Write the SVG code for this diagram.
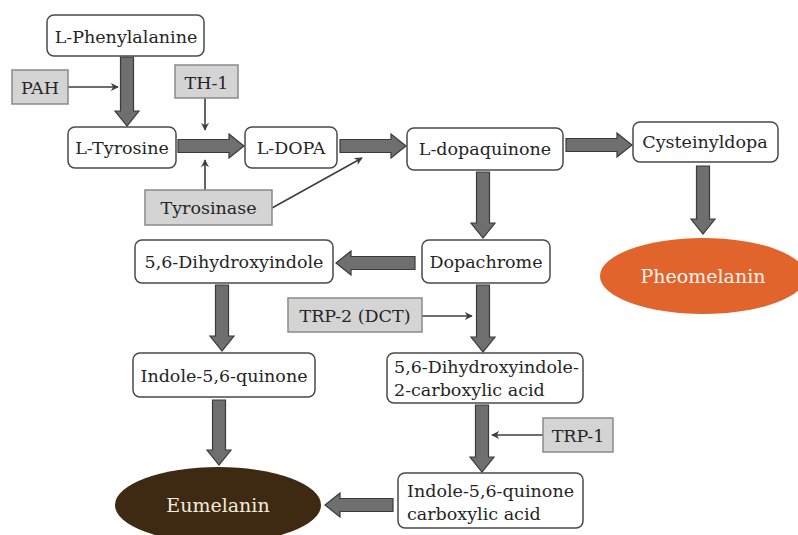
<svg xmlns="http://www.w3.org/2000/svg" width="798" height="535" viewBox="0 0 798 535">
<defs>
<style>
.node rect{fill:#ffffff;stroke:#4a4a4a;stroke-width:1.5}
.enz rect{fill:#d4d4d4;stroke:#8a8a8a;stroke-width:1.5}
text{font-family:'DejaVu Serif','Liberation Serif',serif;font-size:17.5px;fill:#252525}
.c{text-anchor:middle}
.big{fill:#6f6f6f;stroke:#3a3a3a;stroke-width:1.2;stroke-linejoin:miter}
.thin{stroke:#3e3e3e;stroke-width:1.6;fill:none;marker-end:url(#ah)}
.pig{font-size:19px}
</style>
<marker id="ah" viewBox="0 0 10 10" refX="9" refY="5" markerWidth="8" markerHeight="8" markerUnits="userSpaceOnUse" orient="auto">
<path d="M0,0 L10,5 L0,10 L3,5 Z" fill="#3e3e3e"/>
</marker>
</defs>
<rect width="798" height="535" fill="#ffffff"/>

<g id="connectors">
<polygon class="big" points="120.5,57 133.5,57 133.5,111 139,111 127,126 115,111 120.5,111"/>
<polygon class="big" points="178,139.5 229,139.5 229,134 244,146 229,158 229,152.5 178,152.5"/>
<polygon class="big" points="340,139.5 391,139.5 391,134 406,146 391,158 391,152.5 340,152.5"/>
<polygon class="big" points="566,138.5 617,138.5 617,133 632,145 617,157 617,151.5 566,151.5"/>
<polygon class="big" points="476.5,172 489.5,172 489.5,223 495,223 483,238 471,223 476.5,223"/>
<polygon class="big" points="696.5,166 709.5,166 709.5,219 715,219 703,234 691,219 696.5,219"/>
<polygon class="big" points="415,256.5 351,256.5 351,251 336,263 351,275 351,269.5 415,269.5"/>
<polygon class="big" points="215.5,285 228.5,285 228.5,336 234,336 222,351 210,336 215.5,336"/>
<polygon class="big" points="476.5,285 489.5,285 489.5,337 495,337 483,352 471,337 476.5,337"/>
<polygon class="big" points="212.5,400 225.5,400 225.5,450 231,450 219,465 207,450 212.5,450"/>
<polygon class="big" points="475.5,405 488.5,405 488.5,457 494,457 482,472 470,457 475.5,457"/>
<polygon class="big" points="393,498.5 340,498.5 340,493 325,505 340,517 340,511.5 393,511.5"/>
<line class="thin" x1="68" y1="87" x2="118" y2="87"/>
<line class="thin" x1="205" y1="98" x2="205" y2="130"/>
<line class="thin" x1="205" y1="190" x2="205" y2="160"/>
<line class="thin" x1="272" y1="208" x2="362" y2="158"/>
<line class="thin" x1="422" y1="316" x2="472" y2="316"/>
<line class="thin" x1="543" y1="435" x2="492" y2="435"/>
</g>

<g id="phenylalanine" class="node"><rect x="47" y="15" width="157" height="41" rx="7"/><text class="c" x="126" y="43">L-Phenylalanine</text></g>
<g id="tyrosine" class="node"><rect x="68" y="127" width="108" height="41" rx="7"/><text class="c" x="122" y="154">L-Tyrosine</text></g>
<g id="dopa" class="node"><rect x="245" y="127" width="92" height="41" rx="7"/><text class="c" x="291" y="154">L-DOPA</text></g>
<g id="dopaquinone" class="node"><rect x="407" y="128" width="156" height="42" rx="7"/><text class="c" x="485" y="155">L-dopaquinone</text></g>
<g id="cysteinyldopa" class="node"><rect x="633" y="122" width="145" height="40" rx="7"/><text class="c" x="705" y="148">Cysteinyldopa</text></g>
<g id="dhi" class="node"><rect x="135" y="240" width="198" height="43" rx="7"/><text class="c" x="234" y="268">5,6-Dihydroxyindole</text></g>
<g id="dopachrome" class="node"><rect x="422" y="240" width="128" height="43" rx="7"/><text class="c" x="486" y="268">Dopachrome</text></g>
<g id="iq" class="node"><rect x="133" y="353" width="182" height="44" rx="7"/><text class="c" x="224" y="382">Indole-5,6-quinone</text></g>
<g id="dhica" class="node"><rect x="387" y="353" width="196" height="50" rx="7"/><text x="394" y="373">5,6-Dihydroxyindole-</text><text x="394" y="396">2-carboxylic acid</text></g>
<g id="iqca" class="node"><rect x="398" y="473" width="185" height="55" rx="7"/><text x="407" y="497">Indole-5,6-quinone</text><text x="407" y="520">carboxylic acid</text></g>

<g id="pah" class="enz"><rect x="12" y="70" width="56" height="34"/><text class="c" x="40" y="94">PAH</text></g>
<g id="th1" class="enz"><rect x="175" y="65" width="63" height="33"/><text class="c" x="206.5" y="89">TH-1</text></g>
<g id="tyrosinase" class="enz"><rect x="145" y="190" width="127" height="35"/><text class="c" x="208.5" y="214">Tyrosinase</text></g>
<g id="trp2" class="enz"><rect x="288" y="298" width="134" height="34"/><text class="c" x="355" y="322">TRP-2 (DCT)</text></g>
<g id="trp1" class="enz"><rect x="543" y="418" width="70" height="34"/><text class="c" x="578" y="442">TRP-1</text></g>

<g id="pheomelanin"><ellipse cx="703" cy="276" rx="103" ry="38" fill="#e0642c"/><text class="c pig" x="703" y="283" style="fill:#fff4ec">Pheomelanin</text></g>
<g id="eumelanin"><ellipse cx="218" cy="505" rx="103" ry="38" fill="#3e2a12"/><text class="c pig" x="218" y="512" style="fill:#f3ebdc">Eumelanin</text></g>
</svg>
